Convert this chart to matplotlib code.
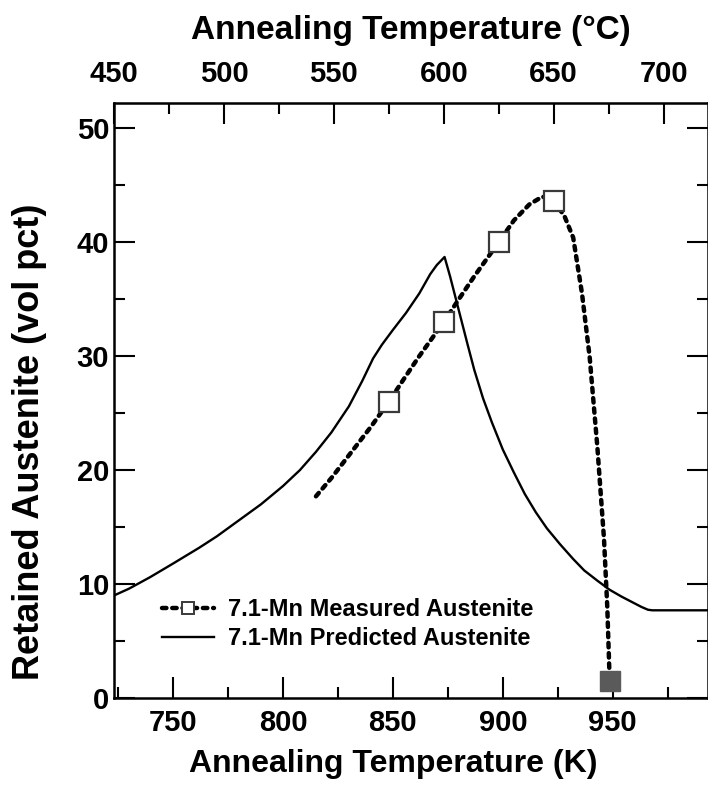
import matplotlib
matplotlib.use('Agg')
import matplotlib.pyplot as plt
import matplotlib.ticker as ticker
from matplotlib.lines import Line2D

plt.rcParams['font.family'] = ['Liberation Sans', 'DejaVu Sans']
plt.rcParams['font.weight'] = 'bold'

# predicted austenite (solid line)
pred_K = [723.15, 730, 739.5, 750, 762, 770, 785, 790, 800, 807.7, 815, 822, 830, 836,
          841, 845, 850, 856, 862, 867, 870, 873.5, 876, 880, 884, 887, 891, 895, 900,
          905, 910, 915, 920, 926, 932, 937, 943, 948.6, 954, 959, 963, 966, 968, 993.15]
pred_RA = [9.0, 9.6, 10.6, 11.8, 13.2, 14.2, 16.3, 17.0, 18.6, 20.0, 21.6, 23.3, 25.6, 27.8,
           29.8, 31.0, 32.3, 33.8, 35.5, 37.2, 38.0, 38.7, 37.0, 34.0, 31.0, 28.8, 26.3, 24.2,
           21.8, 19.8, 17.9, 16.3, 14.9, 13.5, 12.2, 11.2, 10.3, 9.5, 8.9, 8.4, 8.0, 7.75,
           7.7, 7.7]

# measured austenite trend (dashed line)
meas_line_K = [815, 822, 830, 840, 848.15, 855, 862, 873.15, 880, 887, 898.15, 905, 912,
               918, 923.15, 928, 932, 936, 939.5, 943, 946, 947.5, 948.6]
meas_line_RA = [17.7, 19.3, 21.3, 23.8, 26.0, 28.0, 30.0, 33.0, 35.0, 37.0, 40.0, 41.9, 43.3,
                44.0, 43.6, 42.3, 40.4, 35.5, 29.9, 22.0, 14.0, 8.0, 1.5]

# measured points
meas_K = [848.15, 873.15, 898.15, 923.15]
meas_RA = [26.0, 33.0, 40.0, 43.6]
filled_K = [948.6]
filled_RA = [1.5]

top_ticks = [450, 500, 550, 600, 650, 700]
top_minor = [475, 525, 575, 625, 675]

fig = plt.figure(figsize=(7.08, 7.87), dpi=100)
ax = fig.add_axes([0.161, 0.113, 0.8385, 0.756])

ax.plot(pred_K, pred_RA, color='black', lw=1.7)
ax.plot(meas_line_K, meas_line_RA, color='black', lw=3.2, dashes=(1.0, 1.3),
        dash_capstyle='round')
ax.plot(meas_K, meas_RA, ls='none', marker='s', ms=14, mfc='white',
        mec='#3a3a3a', mew=1.6)
ax.plot(filled_K, filled_RA, ls='none', marker='s', ms=14, mfc='#5a5a5a',
        mec='#5a5a5a', clip_on=False, zorder=5)

ax.set_xlim(723.15, 993.15)
ax.set_ylim(0, 52.2)

ax.xaxis.set_major_locator(ticker.MultipleLocator(50))
ax.xaxis.set_minor_locator(ticker.MultipleLocator(25))
ax.yaxis.set_major_locator(ticker.MultipleLocator(10))
ax.yaxis.set_minor_locator(ticker.MultipleLocator(5))
ax.tick_params(which='both', direction='in', width=1.5, labelsize=21, right=True)
ax.tick_params(which='major', length=15)
ax.tick_params(which='minor', length=8)
ax.tick_params(axis='x', pad=8)
for s in ax.spines.values():
    s.set_linewidth(1.8)

ax.set_xlabel('Annealing Temperature (K)', fontsize=23, fontweight='bold')
ax.xaxis.set_label_coords(0.47, -0.085)
ax.set_ylabel('Retained Austenite (vol pct)', fontsize=26, fontweight='bold')
ax.yaxis.set_label_coords(-0.113, 0.43)

top = ax.secondary_xaxis('top', functions=(lambda k: k - 273.15, lambda c: c + 273.15))
top.xaxis.set_major_locator(ticker.FixedLocator(top_ticks))
top.xaxis.set_minor_locator(ticker.FixedLocator(top_minor))
top.tick_params(which='both', direction='in', width=1.5, labelsize=21, pad=11)
top.tick_params(which='major', length=15)
top.tick_params(which='minor', length=8)
top.set_xlabel('Annealing Temperature (°C)', fontsize=24, fontweight='bold', labelpad=15)

handles = [Line2D([], [], color='black', lw=3.2, dashes=(1.0, 1.3), dash_capstyle='round',
                  marker='s', ms=9, mfc='white', mec='#3a3a3a', mew=1.4),
           Line2D([], [], color='black', lw=1.7)]
ax.legend(handles, ['7.1-Mn Measured Austenite', '7.1-Mn Predicted Austenite'],
          loc='upper left', bbox_to_anchor=(0.065, 0.184), frameon=False,
          prop={'size': 17, 'weight': 'bold'}, handlelength=2.2, handletextpad=0.6,
          labelspacing=0.25, borderaxespad=0)

fig.savefig('out.png', dpi=100)
